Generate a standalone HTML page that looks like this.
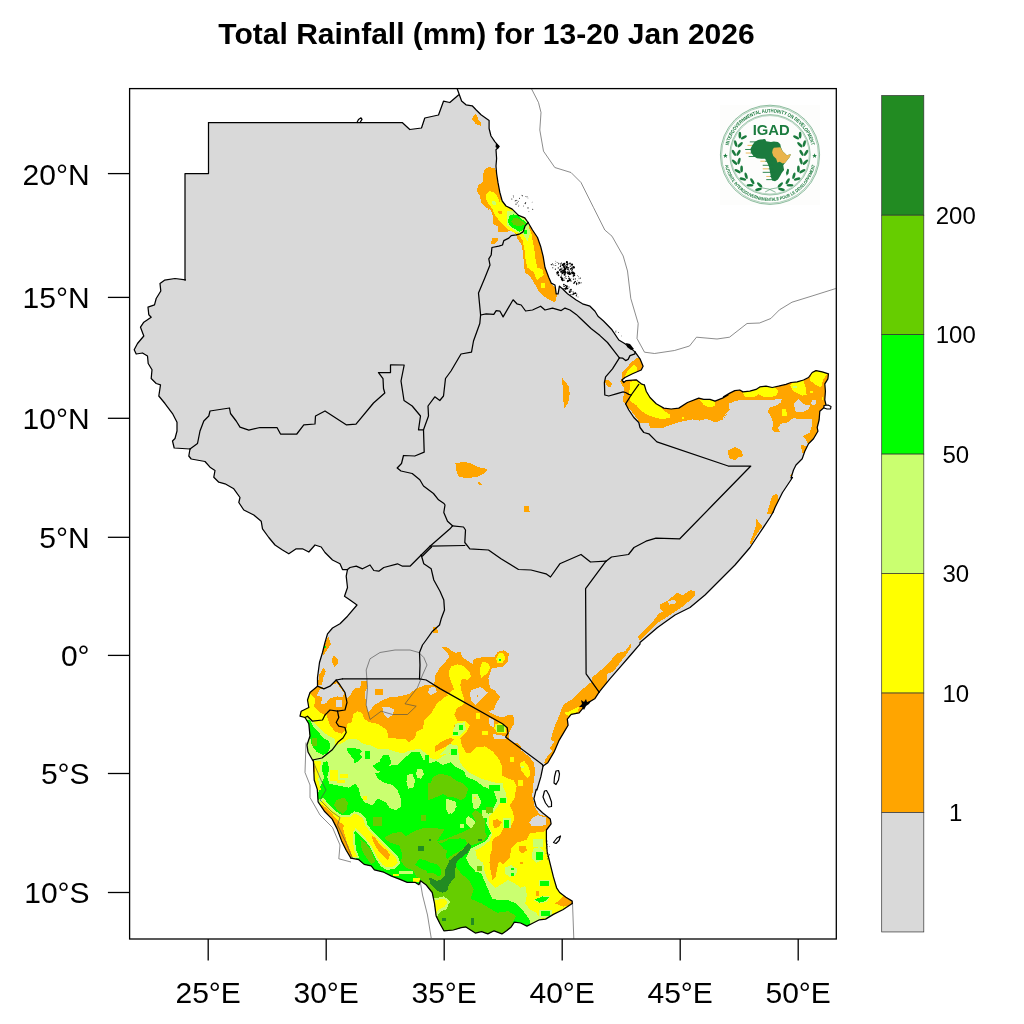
<!DOCTYPE html>
<html><head><meta charset="utf-8"><title>Total Rainfall</title>
<style>
html,body{margin:0;padding:0;background:#fff;}
svg{display:block}
text{font-family:"Liberation Sans",Arial,Helvetica,sans-serif;fill:#000}
.ax{font-size:30px}
.cb{font-size:24px}
.ttl{font-size:30px;font-weight:bold}
.bd{fill:none;stroke:#000;stroke-width:1.25;stroke-linejoin:round;stroke-linecap:round}
.th{fill:none;stroke:#4d4d4d;stroke-width:0.65;stroke-linejoin:round}
</style></head><body>
<svg width="1024" height="1024" viewBox="0 0 1024 1024">
<rect width="1024" height="1024" fill="#fff"/>

<defs><clipPath id="plot"><rect x="129.6" y="88.6" width="706.6999999999999" height="850.4"/></clipPath><clipPath id="landclip"><path d="M208.5 122.5 L356.0 122.5 L402.2 122.5 L409.8 129.5 L421.5 128.0 L424.8 118.0 L438.5 115.0 L443.5 101.2 L449.8 102.5 L458.5 95.0 L457.2 88.8 L459.8 96.0 L461.6 101.0 L466.0 104.8 L472.2 105.8 L476.0 109.8 L481.0 114.8 L489.1 120.4 L489.1 128.5 L491.0 136.0 L494.8 141.6 L499.1 146.6 L496.0 149.8 L496.6 158.5 L496.0 166.0 L496.6 173.5 L497.9 182.2 L499.8 192.2 L502.2 201.0 L506.0 206.0 L512.2 209.1 L518.5 215.4 L524.8 217.9 L528.1 222.5 L528.1 222.5 L532.5 230.0 L537.5 237.5 L540.6 246.2 L543.1 256.2 L545.0 267.5 L548.8 277.5 L551.2 283.1 L555.0 285.0 L556.2 293.8 L558.1 293.8 L559.4 286.2 L562.5 288.8 L567.5 293.8 L576.2 300.0 L582.5 303.8 L590.0 306.2 L595.0 311.2 L598.0 316.2 L603.5 321.0 L612.0 329.8 L618.8 340.0 L625.0 343.8 L630.0 347.5 L635.0 351.9 L635.0 351.9 L640.0 358.8 L643.1 366.2 L641.2 370.0 L632.5 373.8 L625.0 377.5 L621.9 380.0 L623.8 382.5 L626.2 380.6 L636.2 379.8 L641.2 383.8 L644.4 385.0 L644.4 385.0 L646.2 391.2 L650.0 397.5 L656.2 403.8 L663.8 408.1 L671.2 409.0 L678.8 408.1 L687.5 402.5 L698.8 398.1 L703.8 399.4 L710.0 399.4 L715.0 401.2 L722.5 398.1 L728.0 395.0 L723.5 396.9 L729.8 393.1 L734.8 390.6 L739.8 390.0 L742.9 391.9 L749.8 391.2 L756.0 389.4 L759.8 386.9 L766.0 386.2 L772.2 387.5 L778.5 386.2 L786.0 384.4 L791.0 382.5 L797.2 381.9 L803.5 380.0 L808.5 377.5 L812.2 372.5 L816.0 370.6 L822.2 371.9 L828.5 373.8 L827.9 378.8 L824.8 383.8 L825.4 391.2 L824.8 400.0 L826.0 405.0 L823.5 408.1 L819.8 411.2 L819.1 420.0 L817.2 427.5 L817.9 431.2 L813.5 438.8 L808.5 443.8 L804.8 451.2 L802.2 458.8 L796.0 465.0 L793.5 470.0 L791.0 478.0 L792.5 477.5 L782.5 492.5 L775.0 507.5 L773.2 512.0 L773.2 512.0 L770.0 517.5 L760.0 532.5 L750.0 547.5 L735.0 565.0 L720.0 580.0 L705.0 595.0 L690.0 607.5 L675.0 615.0 L657.5 627.5 L640.0 642.5 L640.0 644.1 L630.6 655.0 L621.2 665.9 L610.3 678.4 L602.5 687.8 L599.1 692.2 L599.1 692.2 L594.7 698.8 L586.9 703.4 L579.1 712.8 L571.2 714.4 L567.3 719.1 L568.1 725.3 L563.4 733.1 L558.8 740.9 L554.1 751.9 L547.8 762.8 L543.1 765.9 L543.1 765.9 L540.8 776.9 L536.9 790.0 L536.2 789.4 L533.9 798.8 L536.2 806.6 L542.5 812.8 L550.3 819.1 L551.1 823.8 L546.4 830.0 L546.4 840.9 L547.2 851.9 L550.3 864.4 L553.4 876.9 L556.6 887.8 L559.7 892.5 L565.9 897.2 L572.2 901.1 L572.2 903.4 L572.2 903.4 L562.8 909.7 L553.4 914.4 L545.6 919.1 L539.4 919.8 L533.1 923.0 L526.9 926.1 L520.6 923.0 L514.4 922.2 L511.2 926.9 L506.6 930.8 L501.9 933.9 L494.1 930.8 L487.8 933.9 L481.6 931.6 L475.3 933.1 L470.6 930.0 L465.9 926.9 L461.2 927.7 L453.4 930.0 L444.1 930.8 L443.9 930.8 L440.0 923.8 L436.1 915.9 L434.5 903.4 L432.2 892.5 L425.9 884.7 L420.5 880.8 L418.9 884.7 L415.0 882.3 L407.2 882.3 L399.4 879.2 L391.6 876.1 L383.8 872.2 L374.4 869.8 L371.2 865.9 L364.2 864.4 L358.8 859.7 L350.9 858.1 L350.9 858.1 L346.2 850.3 L341.6 840.9 L336.9 828.4 L332.2 819.1 L324.4 811.2 L318.1 801.9 L317.3 789.4 L314.2 780.0 L313.4 760.5 L312.5 760.0 L308.0 752.0 L307.0 745.0 L310.0 736.0 L308.8 723.8 L305.0 717.5 L305.0 717.5 L300.0 716.2 L301.2 711.2 L308.8 707.5 L307.5 700.0 L310.0 692.5 L317.5 686.2 L317.5 686.2 L317.5 677.5 L319.5 662.5 L322.5 652.5 L325.0 642.5 L327.5 633.8 L332.5 628.0 L340.0 623.8 L347.5 616.2 L357.0 605.0 L350.0 600.0 L344.5 596.2 L347.5 587.5 L346.2 576.2 L347.5 569.5 L347.5 569.5 L342.5 569.5 L340.0 563.8 L332.5 560.0 L325.0 552.5 L321.2 547.0 L315.0 545.0 L308.8 552.0 L302.5 548.8 L296.2 548.8 L288.8 553.8 L282.5 550.0 L275.0 545.0 L268.8 537.5 L262.5 528.8 L261.2 521.2 L253.8 515.0 L243.8 510.0 L238.8 502.5 L240.0 497.5 L233.8 488.8 L225.0 483.8 L218.8 482.2 L213.8 477.2 L215.0 470.5 L210.0 467.2 L205.0 461.5 L191.2 459.0 L188.8 456.0 L190.0 449.0 L190.0 449.0 L174.2 448.0 L172.5 441.0 L175.0 438.5 L177.0 431.0 L177.0 422.2 L172.5 413.5 L165.0 403.5 L158.8 396.0 L160.5 384.8 L156.2 383.5 L151.2 378.5 L152.0 369.8 L148.2 363.5 L147.5 356.0 L142.5 353.0 L136.2 354.0 L134.2 349.8 L137.5 343.5 L143.8 336.0 L140.5 327.2 L143.8 322.2 L151.2 317.2 L148.8 314.8 L148.0 307.2 L154.5 304.8 L156.2 298.5 L160.8 291.0 L160.0 283.5 L164.5 280.2 L175.0 278.5 L185.5 279.8 L185.0 280.0 L185.0 173.5 L208.5 173.5 L208.5 122.5Z"/></clipPath></defs>
<text class="ttl" x="486.5" y="44" text-anchor="middle">Total Rainfall (mm) for 13-20 Jan 2026</text>
<g clip-path="url(#plot)">
<path d="M208.5 122.5 L356.0 122.5 L402.2 122.5 L409.8 129.5 L421.5 128.0 L424.8 118.0 L438.5 115.0 L443.5 101.2 L449.8 102.5 L458.5 95.0 L457.2 88.8 L459.8 96.0 L461.6 101.0 L466.0 104.8 L472.2 105.8 L476.0 109.8 L481.0 114.8 L489.1 120.4 L489.1 128.5 L491.0 136.0 L494.8 141.6 L499.1 146.6 L496.0 149.8 L496.6 158.5 L496.0 166.0 L496.6 173.5 L497.9 182.2 L499.8 192.2 L502.2 201.0 L506.0 206.0 L512.2 209.1 L518.5 215.4 L524.8 217.9 L528.1 222.5 L528.1 222.5 L532.5 230.0 L537.5 237.5 L540.6 246.2 L543.1 256.2 L545.0 267.5 L548.8 277.5 L551.2 283.1 L555.0 285.0 L556.2 293.8 L558.1 293.8 L559.4 286.2 L562.5 288.8 L567.5 293.8 L576.2 300.0 L582.5 303.8 L590.0 306.2 L595.0 311.2 L598.0 316.2 L603.5 321.0 L612.0 329.8 L618.8 340.0 L625.0 343.8 L630.0 347.5 L635.0 351.9 L635.0 351.9 L640.0 358.8 L643.1 366.2 L641.2 370.0 L632.5 373.8 L625.0 377.5 L621.9 380.0 L623.8 382.5 L626.2 380.6 L636.2 379.8 L641.2 383.8 L644.4 385.0 L644.4 385.0 L646.2 391.2 L650.0 397.5 L656.2 403.8 L663.8 408.1 L671.2 409.0 L678.8 408.1 L687.5 402.5 L698.8 398.1 L703.8 399.4 L710.0 399.4 L715.0 401.2 L722.5 398.1 L728.0 395.0 L723.5 396.9 L729.8 393.1 L734.8 390.6 L739.8 390.0 L742.9 391.9 L749.8 391.2 L756.0 389.4 L759.8 386.9 L766.0 386.2 L772.2 387.5 L778.5 386.2 L786.0 384.4 L791.0 382.5 L797.2 381.9 L803.5 380.0 L808.5 377.5 L812.2 372.5 L816.0 370.6 L822.2 371.9 L828.5 373.8 L827.9 378.8 L824.8 383.8 L825.4 391.2 L824.8 400.0 L826.0 405.0 L823.5 408.1 L819.8 411.2 L819.1 420.0 L817.2 427.5 L817.9 431.2 L813.5 438.8 L808.5 443.8 L804.8 451.2 L802.2 458.8 L796.0 465.0 L793.5 470.0 L791.0 478.0 L792.5 477.5 L782.5 492.5 L775.0 507.5 L773.2 512.0 L773.2 512.0 L770.0 517.5 L760.0 532.5 L750.0 547.5 L735.0 565.0 L720.0 580.0 L705.0 595.0 L690.0 607.5 L675.0 615.0 L657.5 627.5 L640.0 642.5 L640.0 644.1 L630.6 655.0 L621.2 665.9 L610.3 678.4 L602.5 687.8 L599.1 692.2 L599.1 692.2 L594.7 698.8 L586.9 703.4 L579.1 712.8 L571.2 714.4 L567.3 719.1 L568.1 725.3 L563.4 733.1 L558.8 740.9 L554.1 751.9 L547.8 762.8 L543.1 765.9 L543.1 765.9 L540.8 776.9 L536.9 790.0 L536.2 789.4 L533.9 798.8 L536.2 806.6 L542.5 812.8 L550.3 819.1 L551.1 823.8 L546.4 830.0 L546.4 840.9 L547.2 851.9 L550.3 864.4 L553.4 876.9 L556.6 887.8 L559.7 892.5 L565.9 897.2 L572.2 901.1 L572.2 903.4 L572.2 903.4 L562.8 909.7 L553.4 914.4 L545.6 919.1 L539.4 919.8 L533.1 923.0 L526.9 926.1 L520.6 923.0 L514.4 922.2 L511.2 926.9 L506.6 930.8 L501.9 933.9 L494.1 930.8 L487.8 933.9 L481.6 931.6 L475.3 933.1 L470.6 930.0 L465.9 926.9 L461.2 927.7 L453.4 930.0 L444.1 930.8 L443.9 930.8 L440.0 923.8 L436.1 915.9 L434.5 903.4 L432.2 892.5 L425.9 884.7 L420.5 880.8 L418.9 884.7 L415.0 882.3 L407.2 882.3 L399.4 879.2 L391.6 876.1 L383.8 872.2 L374.4 869.8 L371.2 865.9 L364.2 864.4 L358.8 859.7 L350.9 858.1 L350.9 858.1 L346.2 850.3 L341.6 840.9 L336.9 828.4 L332.2 819.1 L324.4 811.2 L318.1 801.9 L317.3 789.4 L314.2 780.0 L313.4 760.5 L312.5 760.0 L308.0 752.0 L307.0 745.0 L310.0 736.0 L308.8 723.8 L305.0 717.5 L305.0 717.5 L300.0 716.2 L301.2 711.2 L308.8 707.5 L307.5 700.0 L310.0 692.5 L317.5 686.2 L317.5 686.2 L317.5 677.5 L319.5 662.5 L322.5 652.5 L325.0 642.5 L327.5 633.8 L332.5 628.0 L340.0 623.8 L347.5 616.2 L357.0 605.0 L350.0 600.0 L344.5 596.2 L347.5 587.5 L346.2 576.2 L347.5 569.5 L347.5 569.5 L342.5 569.5 L340.0 563.8 L332.5 560.0 L325.0 552.5 L321.2 547.0 L315.0 545.0 L308.8 552.0 L302.5 548.8 L296.2 548.8 L288.8 553.8 L282.5 550.0 L275.0 545.0 L268.8 537.5 L262.5 528.8 L261.2 521.2 L253.8 515.0 L243.8 510.0 L238.8 502.5 L240.0 497.5 L233.8 488.8 L225.0 483.8 L218.8 482.2 L213.8 477.2 L215.0 470.5 L210.0 467.2 L205.0 461.5 L191.2 459.0 L188.8 456.0 L190.0 449.0 L190.0 449.0 L174.2 448.0 L172.5 441.0 L175.0 438.5 L177.0 431.0 L177.0 422.2 L172.5 413.5 L165.0 403.5 L158.8 396.0 L160.5 384.8 L156.2 383.5 L151.2 378.5 L152.0 369.8 L148.2 363.5 L147.5 356.0 L142.5 353.0 L136.2 354.0 L134.2 349.8 L137.5 343.5 L143.8 336.0 L140.5 327.2 L143.8 322.2 L151.2 317.2 L148.8 314.8 L148.0 307.2 L154.5 304.8 L156.2 298.5 L160.8 291.0 L160.0 283.5 L164.5 280.2 L175.0 278.5 L185.5 279.8 L185.0 280.0 L185.0 173.5 L208.5 173.5 L208.5 122.5Z" fill="#d9d9d9"/>
<g clip-path="url(#landclip)" shape-rendering="crispEdges">
<g fill="#ffa500"><path d="M474.8 114.1 L471.6 119.1 L476.0 124.1 L480.4 125.8 L481.6 122.9 L478.5 119.8 L476.6 114.8Z"/><path d="M489.1 167.0 L484.8 169.1 L483.2 173.5 L482.9 182.2 L477.9 185.4 L477.2 191.0 L479.8 196.0 L481.6 203.5 L486.6 208.5 L491.0 211.0 L483.8 206.2 L490.6 210.0 L492.5 215.0 L492.5 223.8 L497.5 226.2 L498.1 231.9 L506.2 231.9 L511.2 230.6 L516.2 234.4 L516.9 238.1 L521.2 243.8 L523.1 252.5 L523.8 263.8 L525.0 272.5 L530.0 276.2 L533.8 282.5 L538.1 290.0 L541.9 295.0 L547.5 298.8 L555.0 302.5 L556.2 298.8 L557.5 290.0 L552.5 285.0 L547.5 271.2 L545.0 252.5 L540.0 240.0 L530.0 221.2 L517.5 208.8 L507.5 202.5 L501.2 193.8 L503.5 203.5 L499.1 186.0 L497.2 173.5 L494.8 168.5Z"/><path d="M491.9 238.1 L497.5 238.1 L497.5 241.2 L494.4 243.8 L491.2 243.8Z"/></g>
<g fill="#ffff00"><path d="M489.8 191.0 L486.6 193.5 L485.8 198.5 L488.5 203.5 L492.2 208.5 L494.8 214.8 L497.2 218.5 L494.4 210.0 L495.0 215.0 L498.8 220.0 L503.8 225.0 L508.8 230.0 L516.2 233.8 L518.8 235.0 L522.5 240.0 L524.4 248.8 L525.6 260.0 L527.5 267.5 L533.8 272.5 L536.9 280.0 L540.0 277.5 L543.8 275.0 L542.5 270.0 L537.5 267.5 L535.6 260.0 L534.4 250.0 L532.5 240.0 L531.2 232.5 L528.8 227.5 L522.5 217.5 L511.2 208.8 L505.0 203.8 L501.2 197.5 L499.8 202.2 L497.2 196.0 L493.5 192.2Z"/><path d="M541.2 282.5 L545.0 282.5 L545.0 287.5 L541.2 287.5Z"/></g>
<g fill="#ffa500"><path d="M498.1 211.2 L501.9 211.2 L502.5 213.8 L498.8 214.4Z"/></g>
<g fill="#caff70"><path d="M491.6 201.0 L495.4 201.6 L496.0 204.8 L492.9 205.4Z"/><path d="M507.5 211.2 L513.8 210.6 L517.5 213.8 L528.8 222.5 L530.0 233.8 L527.5 241.2 L525.0 237.5 L522.5 233.8 L519.4 233.1 L513.8 230.0 L507.5 225.6 L506.5 220.0Z"/></g>
<g fill="#00ff00"><path d="M510.0 215.0 L513.1 214.4 L516.9 215.0 L526.9 223.1 L523.8 228.8 L520.0 231.9 L514.4 228.8 L508.8 225.0 L508.1 220.0Z"/><path d="M524.4 230.0 L526.9 230.0 L526.9 233.8 L524.4 233.8Z"/></g>
<g fill="#66cd00"><path d="M513.8 217.5 L517.5 218.1 L523.8 221.9 L525.0 224.4 L520.0 226.2 L513.8 225.0 L511.2 221.9Z"/></g>
<g fill="#ffa500"><path d="M636.2 358.1 L630.0 363.8 L622.5 372.5 L621.9 378.8 L620.0 381.2 L624.4 388.8 L623.8 392.5 L623.1 401.2 L625.6 403.8 L628.1 407.5 L632.5 412.5 L636.2 417.5 L640.0 422.5 L648.8 423.1 L650.0 427.5 L662.5 428.1 L670.0 425.0 L680.0 421.9 L692.5 419.4 L700.0 420.6 L706.2 418.8 L716.2 422.5 L723.8 418.8 L725.0 415.0 L728.0 413.8 L722.2 420.0 L724.8 415.0 L729.8 410.0 L728.5 403.8 L736.0 400.6 L746.0 400.0 L781.6 399.4 L781.0 402.5 L776.0 405.6 L769.8 407.5 L767.9 411.9 L771.0 416.2 L772.9 422.5 L772.2 430.0 L776.0 432.5 L779.8 431.9 L777.9 427.5 L781.0 423.8 L787.2 422.5 L793.5 418.1 L801.0 419.4 L812.2 419.4 L812.2 425.0 L809.8 432.5 L802.2 436.2 L806.0 440.0 L808.5 445.0 L828.5 425.0 L836.0 406.2 L831.0 368.8 L813.5 367.5 L791.0 378.8 L759.8 383.8 L734.8 387.5 L716.0 397.5 L712.5 397.5 L698.8 395.0 L678.8 405.0 L663.8 405.0 L650.0 392.5 L645.0 382.5 L646.2 367.5 L641.2 357.5Z"/><path d="M605.6 379.4 L608.8 380.0 L611.9 383.8 L610.0 387.5 L607.5 386.2 L605.2 382.5Z"/><path d="M801.0 446.2 L806.0 445.6 L807.2 450.0 L803.5 452.5 L801.6 450.0Z"/><path d="M728.5 450.0 L734.8 446.9 L741.0 450.0 L743.5 456.2 L738.5 457.5 L734.8 460.0 L729.8 458.8 L727.9 453.8Z"/></g>
<g fill="#d9d9d9"><path d="M798.5 399.4 L793.5 403.8 L796.0 412.5 L803.5 411.9 L809.1 408.8 L809.8 405.0 L803.5 404.4Z"/><path d="M812.9 399.4 L816.0 400.0 L816.0 404.4 L812.9 405.0 L810.8 403.1Z"/></g>
<g fill="#ffff00"><path d="M633.8 365.0 L630.0 368.1 L626.2 373.1 L625.0 376.9 L632.5 373.8 L637.5 371.2 L636.2 366.2Z"/><path d="M630.0 381.9 L629.4 392.5 L630.0 401.2 L636.2 405.0 L640.0 410.0 L647.5 415.0 L655.0 417.5 L662.5 419.4 L670.0 417.5 L670.6 415.0 L663.8 410.6 L660.0 405.0 L650.0 392.5 L642.5 382.5 L637.5 380.0Z"/><path d="M681.9 416.9 L683.8 416.9 L683.8 418.8 L681.9 418.8Z"/><path d="M700.0 400.0 L703.8 405.0 L708.8 407.5 L714.4 406.2 L715.0 403.1 L712.5 397.5Z"/><path d="M742.9 391.9 L744.8 396.9 L753.5 397.5 L758.5 394.4 L763.5 396.9 L771.0 397.5 L777.2 395.0 L777.9 390.6 L772.2 385.0 L759.8 385.0 L747.2 388.8Z"/><path d="M789.8 385.0 L793.5 391.2 L802.2 395.6 L806.6 395.0 L806.0 388.8 L803.5 380.0 L797.2 380.0Z"/><path d="M812.2 371.2 L809.8 380.0 L814.8 384.4 L821.0 387.5 L823.5 378.8 L828.5 372.5 L822.2 368.8Z"/><path d="M810.4 390.6 L812.9 390.6 L812.9 393.1 L810.4 393.1Z"/><path d="M782.2 409.4 L786.0 408.8 L787.2 416.2 L782.2 415.6Z"/><path d="M821.6 396.9 L823.0 396.9 L823.0 400.0 L821.6 400.0Z"/></g>
<g fill="#caff70"><path d="M792.9 386.0 L797.2 386.0 L797.2 388.1 L792.9 388.1Z"/></g>
<g fill="#ffa500"><path d="M455.5 463.5 L463.5 461.8 L471.0 463.5 L478.5 467.2 L487.2 469.0 L486.0 472.2 L478.5 476.5 L468.5 478.0 L459.0 477.2 L456.0 469.8Z"/><path d="M477.2 481.8 L479.2 481.8 L481.8 484.5 L480.2 485.5Z"/><path d="M524.0 506.0 L528.5 506.8 L529.8 512.0 L524.0 512.0Z"/><path d="M562.2 378.0 L568.5 386.0 L569.8 393.5 L568.0 403.5 L564.0 408.5 L563.0 396.0Z"/></g>
<g fill="#ffa500"><path d="M477.2 482.0 L479.8 482.0 L481.8 485.0 L480.2 485.5Z"/><path d="M524.0 505.8 L528.5 505.8 L529.2 508.8 L524.8 511.2Z"/></g>
<g fill="#ffa500"><path d="M432.5 627.5 L437.0 627.0 L436.2 631.2 L432.5 633.0Z"/></g>
<g fill="#ffa500"><path d="M694.7 590.9 L690.0 590.2 L682.2 595.6 L677.5 592.5 L668.1 600.3 L660.3 604.2 L659.5 608.9 L663.4 611.2 L658.8 613.6 L652.5 622.2 L643.1 631.6 L637.7 637.0 L640.0 640.2 L649.4 631.6 L658.8 622.2 L669.7 615.2 L680.6 608.1 L690.0 600.3 L694.7 595.6Z"/><path d="M630.6 644.1 L625.2 651.1 L616.6 653.4 L608.8 662.8 L599.4 672.2 L592.3 676.9 L591.6 681.6 L580.6 690.9 L572.8 700.3 L563.4 705.0 L560.3 712.8 L557.2 720.6 L554.1 728.4 L551.7 737.8 L551.7 740.9 L571.2 740.9 L602.5 698.8 L607.2 680.0 L607.2 673.8 L613.4 671.4 L621.2 661.2 L625.9 655.0 L631.4 647.2Z"/><path d="M772.0 496.0 L777.0 493.5 L779.5 503.5 L774.5 513.5 L767.0 513.5Z"/></g>
<g fill="#d9d9d9"><path d="M668.1 601.1 L675.2 599.5 L675.9 603.4 L668.9 604.7Z"/></g>
<g fill="#ffff00"><path d="M576.2 706.6 L579.4 705.8 L579.1 712.8 L572.0 714.4 L571.2 712.0Z"/><path d="M564.2 712.8 L567.8 712.8 L567.3 717.2 L564.2 716.7Z"/></g>
<g fill="#ffa500"><path d="M328.3 636.2 L330.9 644.1 L326.7 650.3 L322.8 656.6 L323.6 647.2Z"/><path d="M333.8 655.0 L337.7 659.7 L338.4 663.6 L334.5 667.5 L331.4 661.2Z"/><path d="M323.6 667.5 L325.9 671.4 L323.6 676.9 L322.0 684.7 L318.1 684.7 L318.9 675.3Z"/><path d="M433.0 630.0 L437.7 630.0 L437.7 633.1 L433.0 633.1Z"/></g>
<g fill="#00ff00"><path d="M324.4 645.6 L326.2 645.6 L326.2 648.4 L324.4 648.4Z"/></g>
<g fill="#ffa500"><path d="M280.0 700.0 L295.0 688.0 L317.3 686.2 L322.0 687.0 L325.2 689.4 L332.2 684.7 L336.9 680.0 L341.0 686.0 L345.0 692.0 L347.0 698.8 L350.9 694.1 L354.1 688.6 L360.3 687.8 L361.1 680.8 L366.6 680.8 L367.3 687.8 L365.0 692.5 L365.8 703.4 L368.1 712.8 L374.4 705.0 L382.2 700.3 L390.0 697.2 L399.4 696.4 L408.8 694.1 L415.0 689.4 L425.9 684.7 L433.8 684.7 L434.5 681.6 L435.3 675.3 L440.0 667.5 L449.4 657.3 L447.0 652.0 L441.6 647.2 L447.0 647.2 L452.0 651.0 L455.6 652.7 L460.3 651.9 L462.7 657.3 L472.8 664.4 L473.6 658.9 L482.2 657.3 L494.7 656.6 L497.8 651.9 L504.1 650.3 L508.8 653.4 L508.0 661.2 L502.5 666.7 L491.6 668.3 L488.4 678.4 L490.0 687.8 L494.7 690.2 L500.2 697.2 L496.2 703.4 L493.9 709.7 L488.4 711.2 L494.7 715.2 L502.5 717.5 L508.8 714.4 L513.4 715.2 L514.2 723.8 L510.3 730.0 L508.8 733.9 L508.8 739.4 L513.4 742.5 L517.3 743.3 L521.2 746.4 L521.2 750.3 L529.1 756.6 L533.8 762.8 L535.3 770.6 L533.8 780.0 L532.3 795.6 L534.7 806.6 L539.4 814.4 L555.0 819.1 L570.6 889.4 L586.2 951.9 L273.8 951.9Z"/></g>
<g fill="#ffa500"><path d="M600.9 669.1 L591.6 681.6 L580.6 690.9 L572.8 698.8 L565.0 703.4 L561.1 709.7 L560.3 717.5 L555.6 723.8 L552.5 733.1 L550.9 739.4 L554.1 741.7 L549.4 748.8 L552.5 750.3 L546.2 758.1 L543.9 762.8 L549.4 765.9 L611.9 692.5Z"/></g>
<g fill="#d9d9d9"><path d="M319.7 689.4 L336.9 683.1 L343.9 692.5 L343.1 697.2 L336.9 696.4 L329.1 698.8 L325.9 703.4 L321.2 704.2 L322.0 697.2 L316.6 695.6Z"/><path d="M336.1 699.5 L341.6 699.5 L341.6 706.6 L336.1 706.6Z"/><path d="M382.2 706.6 L390.0 707.3 L393.9 709.7 L393.1 714.4 L387.7 718.3 L383.8 714.4Z"/><path d="M429.1 687.8 L435.3 687.0 L436.9 691.7 L430.6 695.6 L428.3 692.5Z"/><path d="M471.2 690.2 L480.6 687.0 L487.7 692.5 L482.2 698.8 L475.9 705.0 L471.2 700.3 L469.7 694.1Z"/><path d="M488.4 717.5 L493.9 719.8 L493.9 726.9 L490.0 726.1Z"/><path d="M492.3 733.9 L505.6 736.2 L505.6 739.4 L494.7 739.4Z"/><path d="M537.8 815.2 L545.6 817.5 L546.4 825.3 L531.6 826.1 L529.2 822.2 L533.1 817.5Z"/></g>
<g fill="#ffa500"><path d="M375.2 688.6 L383.0 688.6 L383.0 694.8 L375.2 694.8Z"/><path d="M476.7 694.8 L478.3 694.8 L478.3 696.9 L476.7 696.9Z"/></g>
<g fill="#ffff00"><path d="M280.0 712.0 L300.9 712.8 L305.6 703.4 L307.2 697.2 L310.3 694.1 L315.0 698.8 L314.2 706.6 L318.1 711.2 L323.6 714.4 L325.2 717.5 L326.7 711.2 L327.5 717.5 L329.8 725.3 L335.3 731.6 L341.6 733.9 L346.2 730.0 L347.0 723.8 L351.7 722.2 L353.3 714.4 L357.2 711.2 L361.9 712.8 L364.2 719.1 L369.7 722.2 L377.5 723.8 L386.9 730.0 L388.4 737.8 L405.6 739.4 L408.8 742.5 L415.0 737.8 L416.6 731.6 L422.8 728.4 L424.4 720.6 L430.6 714.4 L436.9 703.4 L444.7 697.2 L450.0 694.8 L446.2 694.8 L454.1 689.4 L449.4 676.9 L449.4 670.6 L450.9 666.7 L457.2 664.4 L463.4 665.9 L469.7 672.2 L471.2 676.9 L467.3 680.0 L461.9 678.4 L460.3 684.7 L461.9 692.5 L464.2 698.8 L463.4 705.0 L457.2 708.1 L454.1 714.4 L457.2 720.6 L465.0 720.6 L469.7 725.3 L466.6 731.6 L460.3 737.8 L461.9 745.6 L466.6 753.4 L470.5 753.4 L475.9 747.2 L485.3 746.4 L493.1 751.9 L499.4 759.7 L502.5 767.5 L501.7 775.3 L507.2 778.4 L513.4 780.0 L516.6 786.2 L517.5 783.1 L515.9 789.4 L514.4 798.8 L509.7 805.0 L512.8 811.2 L514.4 819.1 L511.2 825.3 L503.4 828.4 L500.3 834.7 L494.1 837.8 L491.7 842.5 L492.5 848.8 L490.2 855.0 L489.4 862.8 L490.9 872.2 L492.5 880.0 L495.6 876.9 L497.2 869.1 L498.8 861.2 L503.4 864.4 L509.7 858.1 L511.2 848.8 L517.5 842.5 L526.9 839.4 L530.0 833.1 L544.1 831.6 L548.8 826.9 L570.6 826.9 L586.2 951.9 L273.8 951.9Z"/></g>
<g fill="#ffff00"><path d="M482.2 662.0 L487.7 662.8 L490.0 667.5 L486.9 673.8 L481.4 677.7 L479.8 672.2 L480.6 665.9Z"/><path d="M498.6 653.4 L503.3 653.4 L505.6 658.1 L502.5 662.8 L497.8 663.6 L496.2 658.9Z"/><path d="M494.7 723.8 L502.5 723.0 L506.4 727.7 L505.6 733.1 L497.8 733.1 L494.4 729.2Z"/><path d="M482.2 730.8 L487.7 730.8 L487.7 734.7 L482.2 734.7Z"/><path d="M475.9 712.8 L479.8 712.8 L479.8 719.1 L475.9 719.1Z"/><path d="M510.3 757.3 L514.2 757.3 L514.2 762.0 L510.3 762.0Z"/><path d="M519.7 762.8 L524.4 761.2 L529.1 767.5 L530.6 775.3 L527.5 778.4 L521.2 770.6Z"/><path d="M518.1 780.0 L522.8 780.0 L522.8 786.2 L518.1 786.2Z"/><path d="M564.2 712.8 L569.7 711.2 L575.9 708.1 L579.1 706.6 L577.5 712.0 L568.1 715.9Z"/></g>
<g fill="#ffa500"><path d="M450.0 737.8 L440.0 742.5 L434.5 747.2 L435.3 751.9 L441.6 748.8 L450.0 744.1 L454.1 739.4Z"/><path d="M492.5 820.6 L497.2 819.1 L501.9 822.2 L498.8 826.9 L494.1 828.4Z"/><path d="M519.1 846.4 L525.3 845.6 L526.9 850.3 L522.2 853.4 L519.1 851.1Z"/><path d="M519.8 862.0 L523.0 862.0 L523.0 864.4 L519.8 864.4Z"/><path d="M555.0 903.4 L561.2 898.8 L564.4 895.6 L580.0 905.0 L562.8 906.6Z"/><path d="M428.4 896.4 L433.1 896.4 L433.1 903.4 L428.4 903.4Z"/><path d="M536.2 890.9 L538.6 890.9 L538.6 895.6 L536.2 895.6Z"/><path d="M454.1 724.5 L455.9 724.5 L455.9 726.6 L454.1 726.6Z"/></g>
<g fill="#caff70"><path d="M290.0 735.0 L304.8 717.5 L310.3 719.1 L316.6 725.3 L322.8 731.6 L329.1 736.2 L335.3 739.4 L335.3 745.6 L343.1 742.5 L347.8 739.4 L357.2 739.4 L363.4 744.1 L371.2 745.6 L377.5 748.8 L386.9 748.8 L396.2 751.9 L402.5 753.4 L410.3 750.3 L419.7 748.8 L425.9 753.4 L430.6 758.1 L436.9 759.7 L444.7 755.0 L450.0 753.4 L440.0 755.0 L449.4 744.1 L458.0 745.6 L458.8 756.6 L460.3 762.8 L465.0 769.1 L471.2 773.8 L480.6 778.4 L491.6 781.6 L502.5 784.7 L504.1 790.0 L505.0 789.4 L506.6 797.2 L498.8 805.0 L494.1 811.2 L489.4 815.9 L488.6 826.9 L492.5 833.1 L489.4 840.9 L481.6 847.2 L475.3 850.3 L476.9 858.1 L483.1 862.8 L484.7 872.2 L487.8 880.0 L495.6 887.8 L503.4 883.1 L508.1 880.0 L514.4 883.1 L520.6 887.8 L525.3 886.2 L526.9 895.6 L525.3 903.4 L530.0 909.7 L536.2 912.8 L539.4 917.5 L545.6 920.6 L545.6 951.9 L273.8 951.9Z"/></g>
<g fill="#caff70"><path d="M505.0 867.5 L511.2 865.2 L517.5 869.1 L515.9 875.3 L509.7 876.9 L505.0 873.8Z"/><path d="M533.1 848.8 L539.4 847.2 L544.1 851.9 L542.5 859.7 L536.2 862.8 L531.6 858.1Z"/><path d="M539.4 880.0 L550.3 880.0 L550.3 886.2 L539.4 886.2Z"/><path d="M533.1 900.3 L542.5 895.6 L550.3 895.6 L547.2 901.9 L539.4 903.4Z"/><path d="M539.4 909.7 L551.9 909.7 L551.9 917.5 L539.4 917.5Z"/><path d="M503.4 817.5 L511.2 817.5 L511.2 828.4 L503.4 828.4Z"/><path d="M498.8 797.2 L506.6 797.2 L506.6 803.4 L498.8 803.4Z"/><path d="M533.1 839.4 L542.5 839.4 L542.5 847.2 L533.1 847.2Z"/><path d="M486.2 783.1 L503.4 783.1 L503.4 792.5 L486.2 792.5Z"/><path d="M455.6 723.8 L465.0 722.2 L465.8 730.0 L458.8 736.2 L452.5 735.5 L453.3 730.0Z"/><path d="M495.5 724.5 L504.8 724.5 L504.8 732.3 L495.5 732.3Z"/><path d="M498.1 658.4 L501.2 658.4 L501.2 660.9 L498.1 660.9Z"/><path d="M521.2 765.6 L523.6 765.6 L523.6 767.8 L521.2 767.8Z"/></g>
<g fill="#00ff00"><path d="M316.6 797.4 L319.5 788.6 L324.4 776.9 L321.5 769.1 L323.4 762.2 L327.3 761.2 L329.3 769.1 L327.3 776.9 L329.3 783.7 L339.1 785.7 L348.8 787.6 L355.7 783.7 L358.6 788.6 L360.5 796.4 L364.5 802.3 L372.3 805.2 L378.1 798.4 L385.9 802.3 L389.8 808.1 L395.7 810.1 L400.6 807.1 L400.6 798.4 L397.7 790.5 L391.8 784.7 L384.0 782.7 L378.1 778.8 L375.2 773.0 L382.0 772.0 L387.9 769.1 L391.8 765.2 L397.7 765.2 L405.5 757.3 L411.3 752.5 L419.1 751.5 L423.0 759.3 L428.9 763.2 L436.7 761.2 L442.6 765.2 L450.4 762.2 L456.2 767.1 L464.1 771.0 L466.0 776.9 L475.8 780.8 L483.6 786.6 L493.4 790.5 L497.2 800.3 L492.5 809.7 L487.8 814.4 L486.2 823.8 L490.9 833.1 L486.2 840.9 L476.9 845.6 L470.6 848.8 L465.9 858.1 L469.1 864.4 L473.8 869.1 L481.6 873.8 L484.7 881.6 L489.4 892.5 L492.5 898.8 L500.3 900.3 L508.1 900.3 L515.9 903.4 L522.2 909.7 L526.9 915.9 L530.0 920.6 L531.6 951.9 L273.8 951.9Z"/></g>
<g fill="#00ff00"><path d="M305.6 719.1 L310.3 720.6 L313.4 726.9 L318.1 731.6 L322.8 737.8 L329.1 740.9 L330.6 747.2 L327.5 753.4 L322.8 755.0 L316.6 751.9 L311.9 745.6 L310.3 737.8 L307.2 726.9Z"/><path d="M347.0 750.3 L352.5 748.0 L358.8 748.8 L361.9 751.9 L358.8 755.0 L357.2 759.7 L352.5 758.1 L349.4 753.4Z"/><path d="M365.0 751.9 L369.7 751.9 L369.7 758.1 L365.0 758.1Z"/><path d="M383.8 755.0 L388.4 755.0 L391.6 762.8 L386.9 767.5 L382.2 770.6 L377.5 770.6 L372.8 765.9 L377.5 762.8 L382.2 761.2Z"/><path d="M346.9 747.6 L352.7 748.6 L358.6 752.5 L362.5 757.3 L358.6 761.2 L354.7 763.2 L352.7 756.4 L347.9 752.5Z"/><path d="M364.5 750.5 L370.3 750.5 L370.3 759.3 L364.5 759.3Z"/><path d="M380.1 759.3 L384.0 754.4 L389.8 757.3 L387.9 763.2 L391.8 769.1 L385.9 772.0 L382.0 776.9 L378.1 767.1Z"/><path d="M425.0 755.4 L428.9 755.4 L428.9 763.2 L425.0 763.2Z"/><path d="M451.4 748.6 L457.2 748.6 L457.2 755.4 L451.4 755.4Z"/><path d="M450.9 748.8 L456.4 748.8 L456.4 755.0 L450.9 755.0Z"/><path d="M458.8 725.3 L463.4 725.3 L463.4 730.0 L458.8 730.0Z"/><path d="M453.3 731.6 L458.0 731.6 L458.0 734.7 L453.3 734.7Z"/><path d="M498.8 658.9 L500.6 658.9 L500.6 660.5 L498.8 660.5Z"/><path d="M536.2 851.9 L542.5 851.9 L542.5 859.7 L536.2 859.7Z"/><path d="M540.2 880.8 L548.8 880.8 L548.8 885.5 L540.2 885.5Z"/><path d="M534.7 899.5 L542.5 896.4 L548.8 897.2 L545.6 901.1 L539.4 902.7Z"/><path d="M540.9 911.2 L550.3 911.2 L550.3 915.9 L540.9 915.9Z"/><path d="M504.2 819.8 L508.9 819.8 L508.9 827.7 L504.2 827.7Z"/><path d="M499.5 798.0 L505.8 798.0 L505.8 802.7 L499.5 802.7Z"/><path d="M489.4 784.7 L500.3 784.7 L500.3 790.9 L489.4 790.9Z"/><path d="M511.2 867.5 L513.6 867.5 L513.6 869.8 L511.2 869.8Z"/><path d="M511.2 873.4 L513.6 873.4 L513.6 875.6 L511.2 875.6Z"/></g>
<g fill="#caff70"><path d="M407.4 774.9 L412.3 773.9 L415.2 780.8 L413.3 787.6 L408.4 788.6 L406.4 781.8Z"/><path d="M417.2 769.1 L422.1 769.1 L424.0 773.9 L421.1 778.8 L417.2 777.9 L416.2 773.0Z"/><path d="M446.5 799.3 L451.4 802.3 L456.2 804.2 L454.3 812.0 L448.4 814.0 L445.5 808.1Z"/><path d="M471.9 793.5 L477.7 794.5 L481.6 802.3 L478.7 808.1 L473.8 805.2 L471.9 799.3Z"/><path d="M466.0 817.9 L471.9 817.9 L479.7 827.7 L478.7 833.5 L471.9 829.6 L466.0 823.8Z"/><path d="M460.2 823.8 L464.1 823.8 L464.1 827.7 L460.2 827.7Z"/><path d="M446.4 798.8 L455.8 801.9 L456.6 806.6 L451.9 814.4 L447.2 809.7Z"/><path d="M472.2 794.1 L478.4 795.6 L481.6 801.9 L478.4 808.1 L473.8 809.7 L472.2 801.9Z"/><path d="M466.7 816.7 L472.2 819.1 L478.4 826.9 L480.0 833.1 L475.3 830.0 L469.1 826.9 L466.7 822.2Z"/><path d="M481.6 809.7 L487.8 809.7 L487.8 817.5 L481.6 817.5Z"/><path d="M475.3 864.4 L483.1 864.4 L483.1 872.2 L475.3 872.2Z"/></g>
<g fill="#caff70"><path d="M466.6 817.6 L469.1 816.1 L473.0 821.0 L475.9 823.0 L473.9 825.9 L478.8 830.8 L479.8 834.2 L477.4 834.7 L473.0 828.8 L469.1 824.9 L466.6 823.0Z"/></g>
<g fill="#caff70"><path d="M316.6 800.3 L323.6 798.0 L330.6 806.6 L340.0 814.4 L349.4 815.2 L354.1 811.2 L360.3 812.8 L365.8 818.3 L367.3 824.5 L372.8 831.6 L379.1 837.8 L388.4 847.2 L397.8 856.6 L400.2 862.8 L394.7 869.1 L386.1 869.8 L380.6 865.9 L375.9 858.9 L372.8 852.7 L369.7 846.4 L363.4 838.6 L358.0 833.1 L355.6 830.8 L354.4 832.3 L355.3 842.5 L355.9 849.5 L359.5 858.1 L352.5 858.9 L349.4 858.9Z"/></g>
<g fill="#ffff00"><path d="M318.9 803.4 L323.6 800.3 L329.1 808.1 L340.0 816.7 L349.4 817.5 L354.1 813.6 L358.8 815.2 L363.4 819.1 L365.0 825.3 L371.2 833.1 L377.5 839.4 L386.9 848.8 L396.2 858.1 L397.8 862.8 L393.1 866.7 L386.9 867.5 L382.2 864.4 L377.5 858.1 L374.4 851.9 L371.2 845.6 L365.0 837.8 L358.8 831.6 L355.6 828.4 L352.5 831.6 L353.3 842.5 L354.1 850.3 L357.2 856.6 L352.5 856.6 L336.9 831.6 L321.2 811.2Z"/><path d="M313.4 760.5 L321.2 761.2 L319.7 770.6 L318.1 780.0 L321.2 790.0 L313.4 790.0 L311.9 770.6Z"/><path d="M330.3 770.0 L338.1 770.0 L338.1 780.8 L330.3 780.8Z"/><path d="M340.0 773.9 L347.9 773.9 L347.9 777.9 L340.0 777.9Z"/><path d="M336.9 780.0 L344.7 780.0 L344.7 783.1 L336.9 783.1Z"/><path d="M362.7 795.6 L367.3 795.6 L367.3 799.5 L362.7 799.5Z"/><path d="M413.4 877.7 L419.7 877.7 L419.7 882.3 L413.4 882.3Z"/><path d="M393.1 873.8 L399.4 873.8 L399.4 876.1 L393.1 876.1Z"/><path d="M435.3 900.3 L443.1 898.8 L447.0 901.9 L444.7 906.6 L438.4 909.7 L435.3 912.8Z"/><path d="M434.7 900.3 L444.1 898.8 L448.0 901.9 L444.1 906.6 L437.8 909.7 L435.5 915.9 L433.1 915.9Z"/><path d="M473.8 796.9 L476.1 796.9 L476.1 799.1 L473.8 799.1Z"/></g>
<g fill="#ffa500"><path d="M318.9 803.4 L325.9 807.3 L333.8 815.9 L340.0 822.2 L343.9 825.3 L343.1 828.4 L347.0 842.5 L350.2 850.3 L352.5 856.6 L350.2 857.3 L336.9 831.6 L321.2 811.2Z"/><path d="M371.2 835.5 L375.2 837.8 L380.6 845.6 L386.9 850.3 L390.0 855.0 L387.7 860.5 L383.8 856.6 L379.1 851.9 L374.4 844.1Z"/><path d="M421.2 881.6 L425.9 886.2 L430.6 894.1 L433.0 903.4 L430.6 903.4 L427.5 892.5 L422.8 887.8Z"/><path d="M311.9 765.9 L315.0 765.9 L315.0 772.2 L311.9 772.2Z"/></g>
<g fill="#66cd00"><path d="M384.0 837.8 L391.8 833.5 L401.6 831.6 L405.5 836.4 L413.3 831.6 L421.1 828.6 L432.8 827.7 L444.5 829.6 L440.6 835.5 L436.7 841.3 L444.5 839.4 L454.3 835.5 L464.1 831.6 L471.9 827.7 L475.8 821.8 L471.9 814.0 L475.8 810.1 L481.6 814.0 L485.5 821.8 L484.6 831.6 L487.5 836.4 L483.2 840.9 L475.4 844.1 L470.7 845.6 L469.1 850.3 L464.5 853.4 L459.8 858.1 L455.9 862.8 L456.6 867.5 L461.3 873.8 L469.1 880.0 L473.8 889.4 L470.7 898.8 L481.6 903.4 L489.5 908.1 L497.3 912.8 L508.2 911.2 L516.0 915.9 L512.9 922.2 L511.3 944.8 L421.3 944.8 L421.3 880.0 L416.6 876.9 L413.5 870.6 L405.7 867.5 L401.0 861.2 L402.5 855.0 L399.4 845.6 L390.0 842.5Z"/></g>
<g fill="#66cd00"><path d="M432.8 776.9 L440.6 773.9 L450.4 775.9 L456.2 780.8 L462.1 782.7 L468.0 788.6 L466.0 796.4 L460.2 799.3 L454.3 796.4 L448.4 797.4 L440.6 790.5 L434.8 788.6 L430.9 782.7Z"/><path d="M336.1 800.3 L343.9 797.4 L347.9 802.3 L346.9 810.1 L343.0 814.0 L337.1 810.1 L334.2 805.2Z"/><path d="M373.2 816.9 L382.0 816.9 L382.0 825.7 L373.2 825.7Z"/><path d="M360.3 839.4 L365.0 842.5 L371.2 850.3 L375.2 861.2 L371.2 864.4 L366.6 858.1 L361.9 850.3Z"/><path d="M373.6 818.3 L382.2 818.3 L382.2 825.3 L373.6 825.3Z"/><path d="M420.5 815.2 L425.9 815.2 L425.9 820.6 L420.5 820.6Z"/><path d="M311.9 737.8 L316.6 737.8 L316.6 745.6 L311.9 745.6Z"/><path d="M428.4 783.1 L439.4 784.7 L450.3 789.4 L461.2 792.5 L465.9 797.2 L461.2 800.3 L453.4 797.2 L442.5 794.1 L436.2 797.2 L428.4 800.3Z"/><path d="M486.2 806.6 L492.5 806.6 L492.5 812.8 L486.2 812.8Z"/><path d="M476.9 865.9 L481.6 865.9 L481.6 870.6 L476.9 870.6Z"/><path d="M497.0 725.3 L504.1 725.3 L504.1 731.6 L497.0 731.6Z"/><path d="M438.4 773.8 L449.4 776.9 L457.2 784.7 L461.9 790.0 L438.4 790.0Z"/></g>
<g fill="#00ff00"><path d="M436.2 840.8 L440.5 843.2 L444.5 842.2 L448.4 839.3 L454.2 839.3 L460.1 838.3 L465.0 839.3 L466.9 843.2 L464.0 848.1 L458.1 852.0 L452.3 854.9 L447.4 858.8 L445.4 855.9 L447.4 851.0 L443.5 848.6 L439.6 844.2Z"/><path d="M415.2 864.7 L419.1 858.8 L423.9 859.8 L430.8 862.7 L437.6 864.7 L440.5 868.6 L441.5 874.5 L438.6 876.4 L432.7 872.5 L427.9 873.5 L425.9 870.5 L421.0 868.6Z"/></g>
<g fill="#228b22"><path d="M468.3 843.0 L470.9 844.8 L470.3 849.5 L466.7 853.4 L462.8 856.6 L458.9 859.7 L455.8 863.6 L455.3 870.6 L454.7 877.7 L451.1 881.6 L448.4 886.2 L447.2 890.9 L442.5 892.8 L437.8 891.2 L433.9 887.8 L430.0 883.1 L429.1 877.7 L432.3 878.4 L436.2 880.8 L440.9 880.0 L444.8 876.1 L444.8 870.6 L447.2 865.2 L449.5 860.5 L453.4 857.3 L458.1 853.4 L462.8 849.5 L465.6 845.6Z"/><path d="M441.7 917.5 L445.6 917.5 L445.6 921.4 L441.7 921.4Z"/><path d="M477.7 838.6 L481.6 838.6 L481.6 840.9 L477.7 840.9Z"/><path d="M471.4 918.3 L473.8 918.3 L473.8 925.3 L471.4 925.3Z"/><path d="M418.1 846.4 L424.4 846.4 L424.4 851.1 L418.1 851.1Z"/><path d="M429.1 839.1 L431.4 839.1 L431.4 840.6 L429.1 840.6Z"/></g>
<g fill="#caff70"><path d="M433.0 898.8 L443.9 896.4 L449.4 901.1 L447.0 908.9 L440.0 912.0 L436.9 915.9 L433.0 914.4Z"/><path d="M433.1 899.5 L444.8 896.9 L450.3 901.9 L445.6 908.4 L439.4 911.6 L437.0 917.5 L433.1 917.5Z"/><path d="M399.4 870.6 L413.4 870.6 L413.4 873.8 L399.4 873.8Z"/></g>
<g fill="#ffff00"><path d="M435.3 900.3 L443.1 898.8 L447.0 901.9 L444.7 906.6 L438.4 909.7 L435.3 912.8Z"/><path d="M434.7 900.3 L444.1 898.8 L448.0 901.9 L444.1 906.6 L437.8 909.7 L435.5 915.9 L433.1 915.9Z"/><path d="M413.4 877.7 L419.7 877.7 L419.7 882.3 L413.4 882.3Z"/><path d="M393.1 873.8 L399.4 873.8 L399.4 876.1 L393.1 876.1Z"/></g>
<g fill="#ffa500"><path d="M421.2 881.6 L425.9 886.2 L430.6 894.1 L433.0 903.4 L430.6 903.4 L427.5 892.5 L422.8 887.8Z"/><path d="M428.4 896.4 L433.1 896.4 L433.1 903.4 L428.4 903.4Z"/></g>
<g fill="#ffa500"><path d="M756.2 518.8 L762.5 526.2 L756.2 535.0 L751.2 545.0 L750.0 542.5 L755.5 527.5Z"/><path d="M801.2 445.0 L807.5 446.2 L806.2 453.8 L802.5 452.5Z"/><path d="M790.0 475.0 L793.0 472.5 L792.0 478.8Z"/></g>
</g>
<path class="th" d="M623.2 256.0 L627.5 271.0 L630.8 298.5 L638.2 323.5 L637.0 338.5 L644.5 352.2 L654.5 353.5 L674.5 350.5 L689.5 346.0 L696.5 337.2 L717.0 339.0 L729.5 337.2 L747.0 323.5 L759.5 323.0 L770.8 318.5 L779.5 309.8 L792.0 302.2 L812.0 296.0 L835.8 288.5"/>
<path class="th" d="M531.5 88.8 L538.5 102.5 L541.0 112.5 L539.8 130.0 L543.5 151.2 L554.8 167.5 L571.0 172.5 L581.0 182.5 L593.5 207.5 L604.8 230.0 L612.0 236.2 L623.2 256.0"/>
<path class="th" d="M370.0 658.8 L380.0 652.5 L395.0 650.0 L410.0 650.0 L418.8 652.5 L423.8 657.5 L427.0 665.0 L422.5 675.0 L417.5 687.5 L405.0 703.8 L416.2 706.2 L407.5 714.5 L392.5 714.5 L381.2 711.2 L370.0 719.5 L366.2 705.0 L367.5 687.5 L366.2 670.0 L370.0 658.8"/>
<path class="th" d="M306.0 742.5 L305.0 772.5 L310.0 785.0 L310.0 797.5 L320.0 815.0 L332.5 827.5 L340.0 845.0 L338.8 858.8 L351.0 862.0"/>
<path class="th" d="M312.5 760.0 L321.0 780.0 L326.0 790.0 L320.0 800.0 L332.0 812.0 L340.0 817.5 L337.5 825.0 L346.0 842.5 L351.0 855.0 L353.0 858.8"/>
<path class="th" d="M420.0 880.0 L422.5 895.0 L427.5 915.0 L431.2 938.0"/>
<path class="th" d="M572.5 902.5 L573.8 938.8"/>
<path class="bd" d="M357.0 122.5 L358.5 119.5 L361.0 117.8 L362.0 119.3 L360.0 122.5"/>
<path class="bd" d="M208.5 122.5 L208.5 173.5 L185.0 173.5 L185.0 280.0"/>
<path class="bd" d="M185.5 279.8 L175.0 278.5 L164.5 280.2 L160.0 283.5 L160.8 291.0 L156.2 298.5 L154.5 304.8 L148.0 307.2 L148.8 314.8 L151.2 317.2 L143.8 322.2 L140.5 327.2 L143.8 336.0 L137.5 343.5 L134.2 349.8 L136.2 354.0 L142.5 353.0 L147.5 356.0 L148.2 363.5 L152.0 369.8 L151.2 378.5 L156.2 383.5 L160.5 384.8 L158.8 396.0 L165.0 403.5 L172.5 413.5 L177.0 422.2 L177.0 431.0 L175.0 438.5 L172.5 441.0 L174.2 448.0 L190.0 449.0"/>
<path class="bd" d="M190.0 449.0 L197.5 443.5 L200.0 431.0 L203.8 421.0 L208.8 416.0 L210.0 411.0 L229.5 408.0 L230.5 413.5 L236.2 421.0 L240.0 427.2 L248.8 430.2 L260.0 427.5 L277.0 427.5 L280.5 434.0 L296.8 434.0 L303.8 424.8 L315.0 424.0 L315.5 416.0 L325.0 411.0 L346.2 424.8 L356.0 424.2 L373.5 403.0 L384.8 393.0 L383.5 388.5 L383.0 378.5 L378.5 372.5 L390.5 372.5 L390.5 364.8 L404.2 365.0 L401.0 381.0 L404.0 400.5 L412.2 406.0 L420.5 416.0 L418.5 429.8 L423.5 429.8"/>
<path class="bd" d="M190.0 449.0 L188.8 456.0 L191.2 459.0 L205.0 461.5 L210.0 467.2 L215.0 470.5 L213.8 477.2 L218.8 482.2 L225.0 483.8 L233.8 488.8 L240.0 497.5 L238.8 502.5 L243.8 510.0 L253.8 515.0 L261.2 521.2 L262.5 528.8 L268.8 537.5 L275.0 545.0 L282.5 550.0 L288.8 553.8 L296.2 548.8 L302.5 548.8 L308.8 552.0 L315.0 545.0 L321.2 547.0 L325.0 552.5 L332.5 560.0 L340.0 563.8 L342.5 569.5 L347.5 569.5"/>
<path class="bd" d="M347.5 569.5 L350.0 567.5 L356.2 566.2 L362.5 568.8 L370.0 565.0 L373.8 570.5 L378.8 571.2 L383.8 567.5 L397.5 563.8 L402.5 566.2 L410.0 566.2 L421.2 555.0"/>
<path class="bd" d="M421.2 555.0 L430.0 546.2 L450.0 528.8 L452.5 525.8"/>
<path class="bd" d="M430.0 546.2 L464.8 545.5"/>
<path class="bd" d="M422.5 556.0 L431.5 547.0"/>
<path class="bd" d="M423.5 429.8 L428.5 416.0 L428.0 406.0 L434.8 396.8 L439.8 400.5 L443.5 396.0 L445.5 378.5 L451.0 371.0 L461.0 354.0 L471.5 352.2 L473.5 341.0 L479.8 323.5 L480.6 315.0"/>
<path class="bd" d="M480.6 315.0 L479.4 302.5 L478.5 293.1 L485.0 277.5 L490.0 265.0 L488.8 258.8 L491.2 255.0 L491.9 247.5 L498.8 246.2 L502.5 245.0 L503.8 240.6 L508.8 238.1 L511.2 235.6 L516.2 234.8 L520.0 233.8 L523.1 231.9 L525.0 226.2 L528.1 222.5"/>
<path class="bd" d="M480.6 315.0 L486.2 313.8 L493.8 314.4 L496.2 310.6 L500.0 311.2 L503.1 316.9 L513.1 299.8 L516.9 303.8 L521.2 305.0 L525.6 311.0 L532.5 310.0 L540.6 306.2 L545.0 310.0 L552.5 308.1 L561.2 310.6 L565.0 308.1 L570.0 310.0 L576.2 314.4 L580.0 318.0 L591.0 328.5 L600.0 335.6 L607.5 342.5 L613.8 350.6 L619.4 357.8"/>
<path class="bd" d="M619.4 357.8 L622.5 358.1 L625.6 360.6 L628.1 359.4 L630.0 355.6 L635.0 353.8 L635.0 351.9"/>
<path class="bd" d="M619.4 357.8 L612.5 368.8 L605.6 376.9 L604.4 382.5 L604.8 395.0 L608.8 396.0 L616.2 393.8 L623.1 391.9 L625.6 392.5 L628.8 394.4 L631.2 395.0"/>
<path class="bd" d="M638.8 384.4 L631.2 395.0 L625.6 403.8"/>
<path class="bd" d="M423.5 429.8 L424.2 452.2 L414.8 456.0 L403.5 455.5 L401.5 463.5 L397.2 468.0 L401.0 471.0 L412.2 473.5 L419.8 479.8 L423.5 486.0 L433.5 493.5 L438.5 499.8 L444.0 503.5 L445.0 505.0 L443.8 512.5 L447.5 521.2 L452.5 525.8"/>
<path class="bd" d="M625.6 403.8 L628.8 410.0 L633.8 417.5 L638.8 422.5 L640.0 427.5 L643.8 432.5 L648.8 433.8 L656.9 441.9 L728.2 466.0 L750.8 466.0 L712.0 505.8 L679.8 538.8 L656.0 538.2 L646.0 541.2 L634.0 547.5 L628.5 554.5 L611.5 557.0 L606.0 561.2"/>
<path class="bd" d="M452.5 525.8 L463.5 527.0 L465.5 530.0 L464.8 542.5 L469.8 548.8 L488.5 550.0 L501.0 558.8 L518.5 569.5 L531.0 570.0 L546.0 573.8 L550.5 577.0 L559.8 563.8 L581.0 554.5 L590.5 562.0 L606.0 561.2"/>
<path class="bd" d="M606.0 561.2 L585.6 588.6 L586.1 673.8 L599.1 692.2"/>
<path class="bd" d="M347.5 569.5 L346.2 576.2 L347.5 587.5 L344.5 596.2 L350.0 600.0 L357.0 605.0 L347.5 616.2 L340.0 623.8 L332.5 628.0 L327.5 633.8 L325.0 642.5 L322.5 652.5 L319.5 662.5 L317.5 677.5 L317.5 686.2"/>
<path class="bd" d="M421.2 555.0 L423.8 563.8 L431.2 568.8 L433.8 580.0 L440.0 591.2 L443.8 600.0 L444.5 610.0 L441.2 618.8 L439.5 625.0 L432.5 631.2 L426.2 640.0 L422.5 645.0 L419.5 652.5 L420.0 665.0 L419.5 678.8"/>
<path class="bd" d="M342.5 678.8 L419.5 678.8"/>
<path class="bd" d="M419.5 678.8 L426.2 680.0 L440.0 688.6 L502.5 723.8 L507.2 727.7 L508.0 733.1 L505.6 737.0 L508.8 739.4 L542.3 764.4 L543.1 765.9"/>
<path class="bd" d="M317.5 686.2 L323.8 688.8 L330.0 686.2 L336.2 680.0 L342.5 678.8"/>
<path class="bd" d="M336.2 680.0 L340.0 685.0 L345.0 692.5 L347.0 702.5 L345.0 710.0 L337.5 711.2"/>
<path class="bd" d="M337.5 711.2 L330.0 710.0 L325.0 715.0 L322.5 720.0 L312.5 721.2 L307.5 716.2 L305.0 717.5"/>
<path class="bd" d="M317.5 686.2 L310.0 692.5 L307.5 700.0 L308.8 707.5 L301.2 711.2 L300.0 716.2 L305.0 717.5"/>
<path class="bd" d="M337.5 711.2 L338.8 717.5 L336.2 722.5 L338.8 726.2 L345.0 727.5 L346.2 732.5 L343.0 738.0 L338.0 742.0 L332.0 750.0 L322.0 758.0 L312.5 760.0"/>
<path class="bd" d="M305.0 717.5 L308.8 723.8 L310.0 736.0 L307.0 745.0 L308.0 752.0 L312.5 760.0"/>
<path class="bd" d="M350.9 858.1 L358.8 859.7 L364.2 864.4 L371.2 865.9 L374.4 869.8 L383.8 872.2 L391.6 876.1 L399.4 879.2 L407.2 882.3 L415.0 882.3 L418.9 884.7 L420.5 880.8 L425.9 884.7 L432.2 892.5 L434.5 903.4 L436.1 915.9 L440.0 923.8 L443.9 930.8 L444.1 930.8 L453.4 930.0 L461.2 927.7 L465.9 926.9 L470.6 930.0 L475.3 933.1 L481.6 931.6 L487.8 933.9 L494.1 930.8 L501.9 933.9 L506.6 930.8 L511.2 926.9 L514.4 922.2 L520.6 923.0 L526.9 926.1 L533.1 923.0 L539.4 919.8 L545.6 919.1 L553.4 914.4 L562.8 909.7 L572.2 903.4"/>
<path class="bd" d="M313.4 760.5 L314.2 780.0 L317.3 789.4 L318.1 801.9 L324.4 811.2 L332.2 819.1 L336.9 828.4 L341.6 840.9 L346.2 850.3 L350.9 858.1"/>
<path class="bd" d="M543.1 765.9 L540.8 776.9 L536.9 790.0 L536.2 789.4 L533.9 798.8 L536.2 806.6 L542.5 812.8 L550.3 819.1 L551.1 823.8 L546.4 830.0 L546.4 840.9 L547.2 851.9 L550.3 864.4 L553.4 876.9 L556.6 887.8 L559.7 892.5 L565.9 897.2 L572.2 901.1 L572.2 903.4"/>
<path class="bd" d="M599.1 692.2 L594.7 698.8 L586.9 703.4 L579.1 712.8 L571.2 714.4 L567.3 719.1 L568.1 725.3 L563.4 733.1 L558.8 740.9 L554.1 751.9 L547.8 762.8 L543.1 765.9"/>
<path class="bd" d="M773.2 512.0 L770.0 517.5 L760.0 532.5 L750.0 547.5 L735.0 565.0 L720.0 580.0 L705.0 595.0 L690.0 607.5 L675.0 615.0 L657.5 627.5 L640.0 642.5 L640.0 644.1 L630.6 655.0 L621.2 665.9 L610.3 678.4 L602.5 687.8 L599.1 692.2"/>
<path class="bd" d="M644.4 385.0 L646.2 391.2 L650.0 397.5 L656.2 403.8 L663.8 408.1 L671.2 409.0 L678.8 408.1 L687.5 402.5 L698.8 398.1 L703.8 399.4 L710.0 399.4 L715.0 401.2 L722.5 398.1 L728.0 395.0 L723.5 396.9 L729.8 393.1 L734.8 390.6 L739.8 390.0 L742.9 391.9 L749.8 391.2 L756.0 389.4 L759.8 386.9 L766.0 386.2 L772.2 387.5 L778.5 386.2 L786.0 384.4 L791.0 382.5 L797.2 381.9 L803.5 380.0 L808.5 377.5 L812.2 372.5 L816.0 370.6 L822.2 371.9 L828.5 373.8 L827.9 378.8 L824.8 383.8 L825.4 391.2 L824.8 400.0 L826.0 405.0 L823.5 408.1 L819.8 411.2 L819.1 420.0 L817.2 427.5 L817.9 431.2 L813.5 438.8 L808.5 443.8 L804.8 451.2 L802.2 458.8 L796.0 465.0 L793.5 470.0 L791.0 478.0 L792.5 477.5 L782.5 492.5 L775.0 507.5 L773.2 512.0"/>
<path class="bd" d="M635.0 351.9 L640.0 358.8 L643.1 366.2 L641.2 370.0 L632.5 373.8 L625.0 377.5 L621.9 380.0 L623.8 382.5 L626.2 380.6 L636.2 379.8 L641.2 383.8 L644.4 385.0"/>
<path class="bd" d="M528.1 222.5 L532.5 230.0 L537.5 237.5 L540.6 246.2 L543.1 256.2 L545.0 267.5 L548.8 277.5 L551.2 283.1 L555.0 285.0 L556.2 293.8 L558.1 293.8 L559.4 286.2 L562.5 288.8 L567.5 293.8 L576.2 300.0 L582.5 303.8 L590.0 306.2 L595.0 311.2 L598.0 316.2 L603.5 321.0 L612.0 329.8 L618.8 340.0 L625.0 343.8 L630.0 347.5 L635.0 351.9"/>
<path class="bd" d="M457.2 88.8 L459.8 96.0 L461.6 101.0 L466.0 104.8 L472.2 105.8 L476.0 109.8 L481.0 114.8 L489.1 120.4 L489.1 128.5 L491.0 136.0 L494.8 141.6 L499.1 146.6 L496.0 149.8 L496.6 158.5 L496.0 166.0 L496.6 173.5 L497.9 182.2 L499.8 192.2 L502.2 201.0 L506.0 206.0 L512.2 209.1 L518.5 215.4 L524.8 217.9 L528.1 222.5"/>
<path class="bd" d="M208.5 122.5 L356.0 122.5 L402.2 122.5 L409.8 129.5 L421.5 128.0 L424.8 118.0 L438.5 115.0 L443.5 101.2 L449.8 102.5 L458.5 95.0"/>
<g fill="#000"><circle cx="522.5" cy="195.8" r="0.51"/><circle cx="513.6" cy="197.1" r="0.44"/><circle cx="513.5" cy="196.5" r="0.36"/><circle cx="525.5" cy="196.4" r="0.37"/><circle cx="518.4" cy="206.2" r="0.38"/><circle cx="515.9" cy="200.5" r="0.59"/><circle cx="525.6" cy="202.8" r="0.59"/><circle cx="521.8" cy="195.2" r="0.38"/><circle cx="516.0" cy="204.3" r="0.40"/><circle cx="523.5" cy="206.0" r="0.44"/><circle cx="528.0" cy="198.0" r="0.36"/><circle cx="515.1" cy="201.0" r="0.46"/><circle cx="518.3" cy="201.3" r="0.46"/><circle cx="516.0" cy="203.9" r="0.52"/><circle cx="516.9" cy="200.2" r="0.48"/><circle cx="528.9" cy="211.6" r="0.42"/><circle cx="518.9" cy="205.1" r="0.39"/><circle cx="527.0" cy="196.8" r="0.52"/><circle cx="528.0" cy="207.9" r="0.57"/><circle cx="517.2" cy="202.8" r="0.50"/><circle cx="525.1" cy="203.6" r="0.56"/><circle cx="532.7" cy="209.3" r="0.52"/><circle cx="511.8" cy="199.1" r="0.51"/><circle cx="519.5" cy="198.3" r="0.52"/><circle cx="513.2" cy="195.4" r="0.39"/><circle cx="532.1" cy="202.1" r="0.41"/><circle cx="561.6" cy="278.3" r="0.56"/><circle cx="564.8" cy="272.6" r="1.12"/><circle cx="568.9" cy="280.8" r="0.69"/><circle cx="565.5" cy="268.8" r="1.12"/><circle cx="562.4" cy="265.0" r="0.66"/><circle cx="565.1" cy="273.6" r="0.68"/><circle cx="563.3" cy="272.4" r="1.17"/><circle cx="569.1" cy="273.5" r="0.93"/><circle cx="572.0" cy="264.7" r="1.13"/><circle cx="568.2" cy="280.8" r="1.06"/><circle cx="564.9" cy="269.4" r="0.57"/><circle cx="571.3" cy="264.6" r="0.55"/><circle cx="563.4" cy="263.9" r="0.74"/><circle cx="566.9" cy="262.2" r="1.11"/><circle cx="570.3" cy="266.1" r="0.68"/><circle cx="564.3" cy="268.5" r="0.59"/><circle cx="565.5" cy="271.5" r="0.56"/><circle cx="560.3" cy="266.6" r="0.69"/><circle cx="573.9" cy="267.7" r="0.52"/><circle cx="573.4" cy="275.3" r="0.60"/><circle cx="570.0" cy="263.4" r="0.87"/><circle cx="571.0" cy="268.7" r="0.76"/><circle cx="558.5" cy="275.1" r="0.87"/><circle cx="571.9" cy="270.5" r="0.66"/><circle cx="569.9" cy="279.9" r="1.07"/><circle cx="571.9" cy="268.3" r="0.86"/><circle cx="566.8" cy="262.3" r="0.52"/><circle cx="563.9" cy="266.1" r="0.98"/><circle cx="574.1" cy="273.8" r="1.16"/><circle cx="565.6" cy="265.9" r="0.66"/><circle cx="562.9" cy="264.6" r="0.94"/><circle cx="564.6" cy="274.7" r="1.06"/><circle cx="557.9" cy="272.5" r="1.14"/><circle cx="569.1" cy="278.4" r="0.83"/><circle cx="558.6" cy="275.5" r="0.73"/><circle cx="564.9" cy="269.5" r="1.16"/><circle cx="572.1" cy="267.2" r="0.59"/><circle cx="573.6" cy="267.2" r="1.08"/><circle cx="563.1" cy="272.0" r="0.59"/><circle cx="568.3" cy="273.4" r="1.15"/><circle cx="562.3" cy="278.6" r="1.08"/><circle cx="562.8" cy="265.6" r="0.71"/><circle cx="561.0" cy="272.0" r="0.68"/><circle cx="567.2" cy="264.6" r="1.14"/><circle cx="563.8" cy="270.3" r="0.91"/><circle cx="573.4" cy="273.0" r="1.14"/><circle cx="565.8" cy="272.6" r="0.87"/><circle cx="558.3" cy="267.9" r="0.63"/><circle cx="560.6" cy="269.5" r="1.01"/><circle cx="568.1" cy="269.1" r="0.86"/><circle cx="565.0" cy="277.7" r="0.57"/><circle cx="568.7" cy="267.6" r="0.69"/><circle cx="570.6" cy="273.8" r="0.89"/><circle cx="567.6" cy="281.4" r="0.81"/><circle cx="567.9" cy="272.8" r="0.86"/><circle cx="569.6" cy="272.3" r="0.87"/><circle cx="562.6" cy="280.2" r="0.99"/><circle cx="561.5" cy="271.6" r="1.16"/><circle cx="574.2" cy="267.3" r="0.59"/><circle cx="567.9" cy="263.6" r="0.67"/><circle cx="557.6" cy="272.6" r="1.05"/><circle cx="568.6" cy="276.3" r="0.60"/><circle cx="564.4" cy="271.1" r="1.19"/><circle cx="573.9" cy="267.7" r="0.80"/><circle cx="567.4" cy="269.1" r="0.64"/><circle cx="561.4" cy="275.1" r="0.51"/><circle cx="567.3" cy="271.2" r="0.51"/><circle cx="562.3" cy="273.3" r="0.86"/><circle cx="560.9" cy="265.2" r="0.53"/><circle cx="572.3" cy="269.4" r="0.59"/><circle cx="561.9" cy="279.3" r="1.07"/><circle cx="564.3" cy="263.9" r="1.14"/><circle cx="565.8" cy="276.2" r="0.56"/><circle cx="557.2" cy="272.8" r="0.80"/><circle cx="566.2" cy="278.5" r="0.56"/><circle cx="572.5" cy="273.4" r="0.74"/><circle cx="564.0" cy="280.3" r="0.69"/><circle cx="559.5" cy="270.2" r="0.67"/><circle cx="564.2" cy="267.2" r="1.03"/><circle cx="562.4" cy="270.7" r="0.62"/><circle cx="569.6" cy="274.4" r="0.63"/><circle cx="562.6" cy="280.0" r="0.57"/><circle cx="571.9" cy="272.7" r="0.85"/><circle cx="572.4" cy="272.1" r="0.85"/><circle cx="561.1" cy="277.3" r="0.99"/><circle cx="569.0" cy="271.0" r="0.74"/><circle cx="557.1" cy="273.9" r="0.68"/><circle cx="570.4" cy="269.0" r="0.67"/><circle cx="562.8" cy="270.0" r="0.61"/><circle cx="566.7" cy="267.2" r="1.17"/><circle cx="581.1" cy="282.7" r="0.50"/><circle cx="573.5" cy="279.2" r="0.60"/><circle cx="571.0" cy="278.6" r="0.40"/><circle cx="573.3" cy="275.0" r="0.56"/><circle cx="573.3" cy="276.6" r="0.63"/><circle cx="574.5" cy="282.5" r="0.66"/><circle cx="576.5" cy="284.6" r="0.56"/><circle cx="569.6" cy="280.4" r="0.66"/><circle cx="579.7" cy="283.1" r="0.69"/><circle cx="580.3" cy="278.1" r="0.61"/><circle cx="573.9" cy="283.2" r="0.72"/><circle cx="579.0" cy="282.4" r="0.76"/><circle cx="576.7" cy="282.7" r="0.49"/><circle cx="574.5" cy="275.6" r="0.73"/><circle cx="575.3" cy="281.5" r="0.65"/><circle cx="577.4" cy="280.8" r="0.40"/><circle cx="578.1" cy="283.8" r="0.60"/><circle cx="574.9" cy="281.7" r="0.43"/><circle cx="579.0" cy="278.8" r="0.43"/><circle cx="571.1" cy="281.0" r="0.48"/><circle cx="575.3" cy="278.9" r="0.59"/><circle cx="576.5" cy="283.4" r="0.65"/><circle cx="578.3" cy="276.7" r="0.46"/><circle cx="570.9" cy="281.1" r="0.52"/><circle cx="577.6" cy="275.7" r="0.42"/><circle cx="552.8" cy="267.7" r="0.52"/><circle cx="558.5" cy="263.9" r="0.48"/><circle cx="555.5" cy="265.7" r="0.38"/><circle cx="561.5" cy="263.0" r="0.59"/><circle cx="555.4" cy="269.2" r="0.59"/><circle cx="555.3" cy="263.7" r="0.40"/><circle cx="557.1" cy="262.4" r="0.48"/><circle cx="560.5" cy="266.1" r="0.57"/><circle cx="558.8" cy="263.3" r="0.57"/><circle cx="555.8" cy="261.2" r="0.35"/><circle cx="555.9" cy="265.5" r="0.43"/><circle cx="551.0" cy="264.4" r="0.43"/><circle cx="559.5" cy="269.4" r="0.38"/><circle cx="562.0" cy="268.1" r="0.58"/><circle cx="553.1" cy="264.7" r="0.45"/><circle cx="554.0" cy="265.3" r="0.42"/><circle cx="560.7" cy="263.9" r="0.58"/><circle cx="552.5" cy="263.7" r="0.48"/><circle cx="551.7" cy="264.7" r="0.59"/><circle cx="561.4" cy="269.1" r="0.51"/><circle cx="570.0" cy="292.6" r="0.42"/><circle cx="573.8" cy="293.6" r="0.78"/><circle cx="573.1" cy="291.8" r="0.42"/><circle cx="570.1" cy="289.9" r="0.55"/><circle cx="565.6" cy="288.8" r="0.55"/><circle cx="571.3" cy="291.2" r="0.48"/><circle cx="565.7" cy="285.5" r="0.85"/><circle cx="571.0" cy="289.6" r="0.85"/><circle cx="578.0" cy="296.9" r="0.47"/><circle cx="569.0" cy="287.1" r="0.52"/><circle cx="565.9" cy="288.4" r="0.84"/><circle cx="574.3" cy="293.7" r="0.61"/><circle cx="570.8" cy="290.7" r="0.57"/><circle cx="563.9" cy="284.6" r="0.88"/><circle cx="564.1" cy="286.4" r="0.71"/><circle cx="576.8" cy="294.1" r="0.54"/><circle cx="566.4" cy="287.4" r="0.62"/><circle cx="576.3" cy="295.7" r="0.69"/><circle cx="567.5" cy="286.1" r="0.48"/><circle cx="569.7" cy="292.1" r="0.87"/><circle cx="573.0" cy="294.4" r="0.78"/><circle cx="569.1" cy="290.7" r="0.42"/><circle cx="575.4" cy="293.2" r="0.86"/><circle cx="573.0" cy="291.9" r="0.46"/><circle cx="565.6" cy="288.6" r="0.75"/><circle cx="570.1" cy="291.7" r="0.59"/><circle cx="565.3" cy="288.1" r="0.41"/><circle cx="567.0" cy="288.4" r="0.88"/><circle cx="570.9" cy="294.6" r="0.64"/><circle cx="566.8" cy="286.5" r="0.88"/><circle cx="573.9" cy="292.6" r="0.41"/><circle cx="569.3" cy="291.8" r="0.61"/><circle cx="565.6" cy="288.8" r="0.86"/><circle cx="567.7" cy="288.6" r="0.74"/><circle cx="564.1" cy="288.7" r="0.77"/><path d="M626 343 L630 344 L634 349 L631 350 L627 347Z"/><circle cx="618.6" cy="332.4" r="0.49"/><circle cx="615.9" cy="332.5" r="0.35"/><circle cx="615.4" cy="331.8" r="0.36"/><circle cx="621.5" cy="335.9" r="0.34"/><circle cx="616.0" cy="331.0" r="0.43"/><path d="M581 700 L584 702 L586 699 L587 702 L591 701 L589 704 L586 706 L584 710 L582 707 L579 707 L582 704Z"/><path d="M496 143 L499.5 146 L498 149 L495.5 147Z"/><circle cx="547.6" cy="844.3" r="0.49"/><circle cx="546.2" cy="847.9" r="0.48"/><circle cx="549.5" cy="854.7" r="0.50"/><circle cx="549.7" cy="846.6" r="0.34"/><circle cx="546.1" cy="853.3" r="0.38"/><circle cx="547.5" cy="846.6" r="0.33"/><circle cx="547.4" cy="859.1" r="0.32"/><circle cx="547.4" cy="856.4" r="0.46"/><circle cx="547.7" cy="841.0" r="0.39"/><circle cx="547.5" cy="858.4" r="0.34"/></g><g fill="#fff" stroke="#000" stroke-width="1.2" stroke-linejoin="round"><path d="M556 771 L558.5 770.5 L559.5 774 L558.5 780 L556 784.5 L554 783 L554.5 777Z"/><path d="M544.5 791 L546.5 790.5 L549 795 L551.5 802 L551.5 806.5 L548.5 807 L545.5 803 L543 797Z"/><path d="M553.5 842.5 L557 838 L560.5 836 L559 840.5 L556 843.5Z"/><path d="M824 405.5 L828 405 L831 406.5 L830.5 409 L827 409 L824 408Z"/></g>
</g>
<rect x="129.6" y="88.6" width="706.6999999999999" height="850.4" fill="none" stroke="#000" stroke-width="1.3"/>
<line x1="107.9" x2="129.6" y1="173.6" y2="173.6" stroke="#000" stroke-width="1.3"/>
<text class="ax" x="89.6" y="184.5" text-anchor="end">20°N</text>
<line x1="107.9" x2="129.6" y1="297.4" y2="297.4" stroke="#000" stroke-width="1.3"/>
<text class="ax" x="89.6" y="308.3" text-anchor="end">15°N</text>
<line x1="107.9" x2="129.6" y1="418.3" y2="418.3" stroke="#000" stroke-width="1.3"/>
<text class="ax" x="89.6" y="429.2" text-anchor="end">10°N</text>
<line x1="107.9" x2="129.6" y1="537.3" y2="537.3" stroke="#000" stroke-width="1.3"/>
<text class="ax" x="89.6" y="548.2" text-anchor="end">5°N</text>
<line x1="107.9" x2="129.6" y1="655.4" y2="655.4" stroke="#000" stroke-width="1.3"/>
<text class="ax" x="89.6" y="666.3" text-anchor="end">0°</text>
<line x1="107.9" x2="129.6" y1="773.5" y2="773.5" stroke="#000" stroke-width="1.3"/>
<text class="ax" x="89.6" y="784.4" text-anchor="end">5°S</text>
<line x1="107.9" x2="129.6" y1="892.5" y2="892.5" stroke="#000" stroke-width="1.3"/>
<text class="ax" x="89.6" y="903.4" text-anchor="end">10°S</text>
<line x1="208.2" x2="208.2" y1="939.0" y2="960.5" stroke="#000" stroke-width="1.3"/>
<text class="ax" x="208.2" y="1002.6" text-anchor="middle">25°E</text>
<line x1="326.2" x2="326.2" y1="939.0" y2="960.5" stroke="#000" stroke-width="1.3"/>
<text class="ax" x="326.2" y="1002.6" text-anchor="middle">30°E</text>
<line x1="444.2" x2="444.2" y1="939.0" y2="960.5" stroke="#000" stroke-width="1.3"/>
<text class="ax" x="444.2" y="1002.6" text-anchor="middle">35°E</text>
<line x1="562.2" x2="562.2" y1="939.0" y2="960.5" stroke="#000" stroke-width="1.3"/>
<text class="ax" x="562.2" y="1002.6" text-anchor="middle">40°E</text>
<line x1="680.2" x2="680.2" y1="939.0" y2="960.5" stroke="#000" stroke-width="1.3"/>
<text class="ax" x="680.2" y="1002.6" text-anchor="middle">45°E</text>
<line x1="798.2" x2="798.2" y1="939.0" y2="960.5" stroke="#000" stroke-width="1.3"/>
<text class="ax" x="798.2" y="1002.6" text-anchor="middle">50°E</text>
<rect x="881.7" y="95.5" width="42.1" height="119.70" fill="#228b22" stroke="#333" stroke-width="0.7"/>
<rect x="881.7" y="215.2" width="42.1" height="119.45" fill="#66cd00" stroke="#333" stroke-width="0.7"/>
<rect x="881.7" y="334.65" width="42.1" height="119.45" fill="#00ff00" stroke="#333" stroke-width="0.7"/>
<rect x="881.7" y="454.1" width="42.1" height="119.50" fill="#caff70" stroke="#333" stroke-width="0.7"/>
<rect x="881.7" y="573.6" width="42.1" height="119.45" fill="#ffff00" stroke="#333" stroke-width="0.7"/>
<rect x="881.7" y="693.05" width="42.1" height="119.45" fill="#ffa500" stroke="#333" stroke-width="0.7"/>
<rect x="881.7" y="812.5" width="42.1" height="119.45" fill="#d9d9d9" stroke="#333" stroke-width="0.7"/>
<text class="cb" x="955.8" y="223.9" text-anchor="middle">200</text>
<text class="cb" x="955.8" y="343.3" text-anchor="middle">100</text>
<text class="cb" x="955.8" y="462.8" text-anchor="middle">50</text>
<text class="cb" x="955.8" y="582.3" text-anchor="middle">30</text>
<text class="cb" x="955.8" y="701.8" text-anchor="middle">10</text>
<text class="cb" x="955.8" y="821.2" text-anchor="middle">1</text>
<g><rect x="720.2" y="104.8" width="99.7" height="100.2" fill="#fdfdfc"/><circle cx="770.0" cy="154.8" r="49.6" fill="none" stroke="#1b7b3e" stroke-width="0.5"/><circle cx="770.0" cy="154.8" r="48.4" fill="none" stroke="#1b7b3e" stroke-width="0.35"/><circle cx="770.0" cy="154.8" r="40.2" fill="none" stroke="#1b7b3e" stroke-width="0.45"/><circle cx="770.0" cy="154.8" r="39.2" fill="none" stroke="#1b7b3e" stroke-width="0.3"/><defs><path id="arcTop" d="M727.60 154.80 A42.4 42.4 0 0 1 812.40 154.80"/><path id="arcBot" d="M723.70 154.80 A46.3 46.3 0 0 0 816.30 154.80"/></defs><text style="font-size:5.1px;font-weight:bold;fill:#1b7b3e" text-anchor="middle"><textPath href="#arcTop" startOffset="50%" textLength="114" lengthAdjust="spacingAndGlyphs">INTERGOVERNMENTAL AUTHORITY ON DEVELOPMENT</textPath></text><text style="font-size:4.6px;font-weight:bold;fill:#1b7b3e" text-anchor="middle"><textPath href="#arcBot" startOffset="50%" textLength="124" lengthAdjust="spacingAndGlyphs">AUTORITE INTERGOUVERNEMENTALE POUR LE DEVELOPPEMENT</textPath></text><path d="M725.40 153.20 L726.02 154.95 L727.87 155.00 L726.40 156.12 L726.93 157.90 L725.40 156.85 L723.87 157.90 L724.40 156.12 L722.93 155.00 L724.78 154.95Z" fill="#1b7b3e"/><path d="M814.60 153.20 L815.22 154.95 L817.07 155.00 L815.60 156.12 L816.13 157.90 L814.60 156.85 L813.07 157.90 L813.60 156.12 L812.13 155.00 L813.98 154.95Z" fill="#1b7b3e"/><text x="771.2" y="134.8" text-anchor="middle" textLength="37" lengthAdjust="spacingAndGlyphs" style="font-size:15.5px;font-weight:bold;fill:#1b7b3e">IGAD</text><path d="M760.39 139.53 L765.08 139.06 L766.25 141.29 L770.94 142.11 L773.87 141.41 L777.97 141.88 L780.31 144.22 L780.90 147.15 L782.66 151.25 L785.00 153.59 L786.76 155.35 L790.86 154.18 L789.69 157.11 L787.34 160.04 L785.00 162.97 L783.24 165.31 L784.06 170.00 L781.72 172.93 L780.31 175.86 L777.97 179.38 L775.04 181.13 L772.11 180.55 L770.94 177.03 L770.00 172.34 L769.30 167.66 L768.01 164.14 L766.25 160.63 L765.08 158.87 L761.56 158.87 L756.88 158.28 L753.36 155.94 L751.02 152.42 L750.43 148.91 L752.19 145.39 L754.53 141.88 L758.05 140.12Z" fill="#1b7b3e"/><path d="M773.87 147.73 L780.31 147.15 L782.66 151.25 L785.00 153.59 L786.76 155.35 L790.86 154.18 L789.69 157.11 L787.34 160.04 L785.00 162.97 L782.66 163.55 L779.73 161.80 L777.38 162.38 L776.21 158.87 L773.28 155.94 L772.11 152.42 L772.70 149.49Z" fill="#e9b44c"/><path d="M787.34 168.83 L789.10 169.41 L788.52 173.52 L786.76 175.86 L785.94 172.93Z" fill="#1b7b3e"/><line x1="749.84" y1="141.88" x2="760.39" y2="141.88" stroke="#1b7b3e" stroke-width="0.9"/><line x1="747.50" y1="145.39" x2="752.19" y2="145.39" stroke="#e9b44c" stroke-width="0.9"/><line x1="752.19" y1="145.39" x2="758.05" y2="145.39" stroke="#1b7b3e" stroke-width="0.9"/><line x1="745.16" y1="149.49" x2="756.88" y2="149.49" stroke="#1b7b3e" stroke-width="0.9"/><line x1="745.74" y1="153.01" x2="750.43" y2="153.01" stroke="#e9b44c" stroke-width="0.9"/><line x1="750.43" y1="153.01" x2="759.22" y2="153.01" stroke="#1b7b3e" stroke-width="0.9"/><line x1="748.67" y1="156.52" x2="756.88" y2="156.52" stroke="#1b7b3e" stroke-width="0.9"/><line x1="760.39" y1="161.21" x2="765.08" y2="161.21" stroke="#e9b44c" stroke-width="0.9"/><line x1="765.08" y1="161.21" x2="772.11" y2="161.21" stroke="#1b7b3e" stroke-width="0.9"/><line x1="762.73" y1="165.31" x2="773.28" y2="165.31" stroke="#1b7b3e" stroke-width="0.9"/><line x1="762.73" y1="168.83" x2="768.59" y2="168.83" stroke="#e9b44c" stroke-width="0.9"/><line x1="768.59" y1="168.83" x2="773.87" y2="168.83" stroke="#1b7b3e" stroke-width="0.9"/><line x1="762.73" y1="172.34" x2="775.63" y2="172.34" stroke="#1b7b3e" stroke-width="0.9"/><line x1="766.25" y1="176.45" x2="769.77" y2="176.45" stroke="#e9b44c" stroke-width="0.9"/><line x1="769.77" y1="176.45" x2="774.45" y2="176.45" stroke="#1b7b3e" stroke-width="0.9"/><line x1="766.25" y1="179.61" x2="774.45" y2="179.61" stroke="#1b7b3e" stroke-width="0.9"/><ellipse cx="739.86" cy="135.10" rx="3.40" ry="1.35" transform="rotate(270.0 739.86 135.10)" fill="#1b7b3e"/><ellipse cx="743.85" cy="137.40" rx="3.40" ry="1.35" transform="rotate(330.0 743.85 137.40)" fill="#1b7b3e"/><ellipse cx="735.71" cy="143.58" rx="3.40" ry="1.35" transform="rotate(255.0 735.71 143.58)" fill="#1b7b3e"/><ellipse cx="740.16" cy="144.77" rx="3.40" ry="1.35" transform="rotate(315.0 740.16 144.77)" fill="#1b7b3e"/><ellipse cx="733.90" cy="152.85" rx="3.40" ry="1.35" transform="rotate(240.0 733.90 152.85)" fill="#1b7b3e"/><ellipse cx="738.50" cy="152.85" rx="3.40" ry="1.35" transform="rotate(300.0 738.50 152.85)" fill="#1b7b3e"/><ellipse cx="734.55" cy="162.27" rx="3.40" ry="1.35" transform="rotate(225.0 734.55 162.27)" fill="#1b7b3e"/><ellipse cx="738.99" cy="161.08" rx="3.40" ry="1.35" transform="rotate(285.0 738.99 161.08)" fill="#1b7b3e"/><ellipse cx="737.61" cy="171.20" rx="3.40" ry="1.35" transform="rotate(210.0 737.61 171.20)" fill="#1b7b3e"/><ellipse cx="741.59" cy="168.90" rx="3.40" ry="1.35" transform="rotate(270.0 741.59 168.90)" fill="#1b7b3e"/><ellipse cx="742.88" cy="179.03" rx="3.40" ry="1.35" transform="rotate(195.0 742.88 179.03)" fill="#1b7b3e"/><ellipse cx="746.13" cy="175.78" rx="3.40" ry="1.35" transform="rotate(255.0 746.13 175.78)" fill="#1b7b3e"/><ellipse cx="750.00" cy="185.24" rx="3.40" ry="1.35" transform="rotate(180.0 750.00 185.24)" fill="#1b7b3e"/><ellipse cx="752.30" cy="181.25" rx="3.40" ry="1.35" transform="rotate(240.0 752.30 181.25)" fill="#1b7b3e"/><ellipse cx="758.48" cy="189.39" rx="3.40" ry="1.35" transform="rotate(165.0 758.48 189.39)" fill="#1b7b3e"/><ellipse cx="759.67" cy="184.94" rx="3.40" ry="1.35" transform="rotate(225.0 759.67 184.94)" fill="#1b7b3e"/><ellipse cx="800.14" cy="135.10" rx="3.40" ry="1.35" transform="rotate(-90.0 800.14 135.10)" fill="#1b7b3e"/><ellipse cx="796.15" cy="137.40" rx="3.40" ry="1.35" transform="rotate(-150.0 796.15 137.40)" fill="#1b7b3e"/><ellipse cx="804.29" cy="143.58" rx="3.40" ry="1.35" transform="rotate(-75.0 804.29 143.58)" fill="#1b7b3e"/><ellipse cx="799.84" cy="144.77" rx="3.40" ry="1.35" transform="rotate(-135.0 799.84 144.77)" fill="#1b7b3e"/><ellipse cx="806.10" cy="152.85" rx="3.40" ry="1.35" transform="rotate(-60.0 806.10 152.85)" fill="#1b7b3e"/><ellipse cx="801.50" cy="152.85" rx="3.40" ry="1.35" transform="rotate(-120.0 801.50 152.85)" fill="#1b7b3e"/><ellipse cx="805.45" cy="162.27" rx="3.40" ry="1.35" transform="rotate(-45.0 805.45 162.27)" fill="#1b7b3e"/><ellipse cx="801.01" cy="161.08" rx="3.40" ry="1.35" transform="rotate(-105.0 801.01 161.08)" fill="#1b7b3e"/><ellipse cx="802.39" cy="171.20" rx="3.40" ry="1.35" transform="rotate(-30.0 802.39 171.20)" fill="#1b7b3e"/><ellipse cx="798.41" cy="168.90" rx="3.40" ry="1.35" transform="rotate(-90.0 798.41 168.90)" fill="#1b7b3e"/><ellipse cx="797.12" cy="179.03" rx="3.40" ry="1.35" transform="rotate(-15.0 797.12 179.03)" fill="#1b7b3e"/><ellipse cx="793.87" cy="175.78" rx="3.40" ry="1.35" transform="rotate(-75.0 793.87 175.78)" fill="#1b7b3e"/><ellipse cx="790.00" cy="185.24" rx="3.40" ry="1.35" transform="rotate(-0.0 790.00 185.24)" fill="#1b7b3e"/><ellipse cx="787.70" cy="181.25" rx="3.40" ry="1.35" transform="rotate(-60.0 787.70 181.25)" fill="#1b7b3e"/><ellipse cx="781.52" cy="189.39" rx="3.40" ry="1.35" transform="rotate(15.0 781.52 189.39)" fill="#1b7b3e"/><ellipse cx="780.33" cy="184.94" rx="3.40" ry="1.35" transform="rotate(-45.0 780.33 184.94)" fill="#1b7b3e"/><path d="M761.6 187.8 Q770.0 188.3 775.6 192.3 M778.6 187.6 Q770.0 188.1 765.1 192.0" fill="none" stroke="#1b7b3e" stroke-width="0.5"/></g>
</svg></body></html>
